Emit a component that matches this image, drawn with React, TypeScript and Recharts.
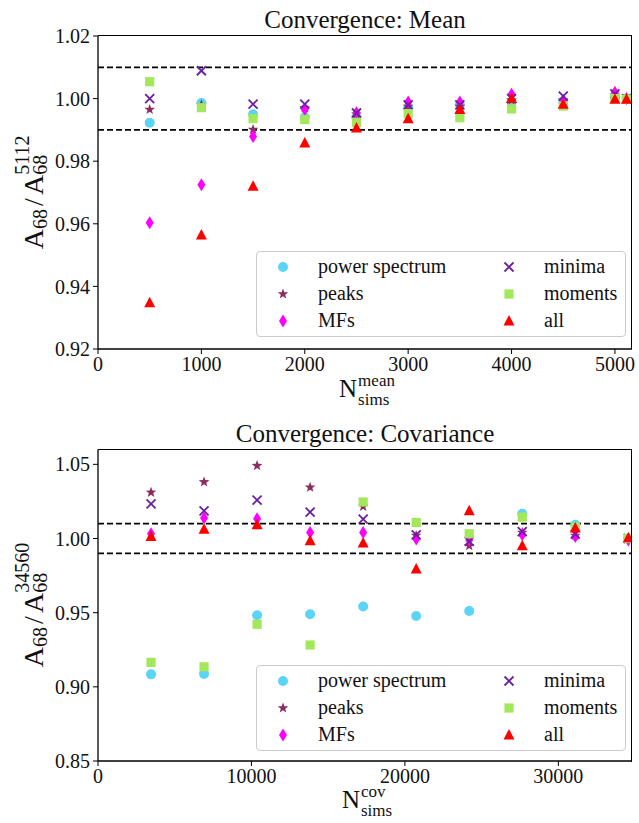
import React from "react";
import {
  ScatterChart,
  Scatter,
  XAxis,
  YAxis,
  ReferenceLine,
  Legend,
} from "recharts";

const SERIF = "'Liberation Serif', 'DejaVu Serif', 'Noto Serif', serif";
const INK = "#111";

// mean convergence (top panel)
const MEAN_N = [500, 1000, 1500, 2000, 2500, 3000, 3500, 4000, 4500, 5000, 5112];
const MEAN_PS = [0.9923, 0.9986, 0.995, 0.994, 0.994, 0.997, 0.998, 0.999, 0.999, 1.0005, 1.0];
const MEAN_PEAKS = [0.9965, 0.998, 0.9901, 0.997, 0.995, 0.9975, 0.9975, 0.9995, 0.9995, 1.001, 1.0];
const MEAN_MFS = [0.9603, 0.9725, 0.9879, 0.9965, 0.9955, 0.9989, 0.9989, 1.0014, 0.9995, 1.002, 1.0];
const MEAN_MINIMA = [1.0, 1.0089, 0.9982, 0.9982, 0.9954, 0.998, 0.998, 1.0, 1.0008, 1.0015, 1.0];
const MEAN_MOMENTS = [1.0054, 0.9971, 0.9936, 0.9933, 0.9924, 0.9952, 0.9939, 0.9967, 0.9976, 1.0, 0.9998];
const MEAN_ALL = [0.9348, 0.9564, 0.972, 0.9858, 0.9906, 0.9936, 0.9965, 1.0, 0.9982, 0.9998, 0.9998];

// covariance convergence (bottom panel)
const COV_N = [3456, 6912, 10368, 13824, 17280, 20736, 24192, 27648, 31104, 34560];
const COV_PS = [0.9084, 0.9086, 0.9482, 0.9489, 0.9541, 0.9478, 0.9511, 1.0167, 1.0093, 1.0];
const COV_PEAKS = [1.0311, 1.0381, 1.0491, 1.0345, 1.0216, 1.002, 0.9951, 1.004, 1.002, 1.0];
const COV_MFS = [1.0032, 1.0138, 1.0133, 1.0041, 1.0041, 0.9996, 0.999, 1.0025, 1.0014, 0.999];
const COV_MINIMA = [1.0234, 1.0187, 1.0259, 1.0178, 1.0131, 1.0025, 0.998, 1.0047, 1.003, 1.0];
const COV_MOMENTS = [0.9165, 0.9135, 0.9422, 0.9282, 1.0246, 1.0108, 1.0032, 1.0144, 1.0077, 1.0];
const COV_ALL = [1.0014, 1.0063, 1.0093, 0.9984, 0.9969, 0.9795, 1.0187, 0.9951, 1.007, 1.0005];

const MEAN_XTICKS = [0, 1000, 2000, 3000, 4000, 5000];
const MEAN_YTICKS = [0.92, 0.94, 0.96, 0.98, 1.0, 1.02];
const COV_XTICKS = [0, 10000, 20000, 30000];
const COV_YTICKS = [0.85, 0.9, 0.95, 1.0, 1.05];
const BOUNDS = [0.99, 1.01];

const SERIES = [
  { name: "power spectrum", kind: "circle", color: "#5bd5f5" },
  { name: "peaks", kind: "star", color: "#8b2c5f" },
  { name: "MFs", kind: "diamond", color: "#ff00ff" },
  { name: "minima", kind: "x", color: "#6a1fa0" },
  { name: "moments", kind: "square", color: "#a3e85a" },
  { name: "all", kind: "triangle", color: "#ff0000" },
];

// panel geometry
const W = 639;
const H = 412;
const Y_AXIS_W = 98;
const RIGHT = 7;
const X_AXIS_H = 30;
const BOTTOM = 33;

const toPoints = (xs: number[], ys: number[]) => xs.map((x, i) => ({ x, y: ys[i] }));

function Marker({ kind, cx, cy, color }: any) {
  if (cx == null || cy == null) return null;
  switch (kind) {
    case "circle":
      return <circle cx={cx} cy={cy} r={5} fill={color} />;
    case "star": {
      const pts = [];
      for (let i = 0; i < 10; i++) {
        const r = i % 2 === 0 ? 5.6 : 2.3;
        const a = -Math.PI / 2 + (i * Math.PI) / 5;
        pts.push(`${cx + r * Math.cos(a)},${cy + r * Math.sin(a)}`);
      }
      return <polygon points={pts.join(" ")} fill={color} />;
    }
    case "diamond":
      return (
        <polygon
          points={`${cx},${cy - 6.5} ${cx + 4},${cy} ${cx},${cy + 6.5} ${cx - 4},${cy}`}
          fill={color}
        />
      );
    case "x":
      return (
        <path
          d={`M${cx - 4.5},${cy - 4.5}L${cx + 4.5},${cy + 4.5}M${cx + 4.5},${cy - 4.5}L${cx - 4.5},${cy + 4.5}`}
          stroke={color}
          strokeWidth={1.8}
        />
      );
    case "square":
      return <rect x={cx - 4.6} y={cy - 4.6} width={9.2} height={9.2} fill={color} />;
    case "triangle":
      return (
        <polygon
          points={`${cx},${cy - 6} ${cx + 5.5},${cy + 4.5} ${cx - 5.5},${cy + 4.5}`}
          fill={color}
        />
      );
    default:
      return null;
  }
}

function LegendBox() {
  return (
    <div
      style={{
        width: 368,
        height: 84,
        border: "1px solid #cccccc",
        borderRadius: 4,
        background: "rgba(255,255,255,0.85)",
        position: "relative",
        fontFamily: SERIF,
        fontSize: 20,
        color: INK,
      }}
    >
      {SERIES.map((s, i) => {
        const col = Math.floor(i / 3);
        const row = i % 3;
        const top = 15 + row * 27;
        return (
          <React.Fragment key={s.name}>
            <svg
              width={16}
              height={16}
              style={{ position: "absolute", left: (col ? 252 : 26) - 8, top: top - 8 }}
            >
              <Marker kind={s.kind} cx={8} cy={8} color={s.color} />
            </svg>
            <div
              style={{
                position: "absolute",
                left: col ? 287 : 61,
                top: top - 13,
                lineHeight: "24px",
                whiteSpace: "nowrap",
              }}
            >
              {s.name}
            </div>
          </React.Fragment>
        );
      })}
    </div>
  );
}

// rotated A_68 / A_68^{sup}, one text element
function YLabel({ x, cy, sup }: { x: number; cy: number; sup: string }) {
  const big = 28;
  const small = 20;
  const wA = 0.722 * big;
  const wSub = 2 * 0.5 * small;
  const wSlash = 0.5 * big;
  const wStack = Math.max(wSub, sup.length * 0.5 * small);
  const total = wA + wSub + wSlash + wA + wStack;
  const a1 = -total / 2;
  const s1 = a1 + wA;
  const sl = s1 + wSub + 0.11 * big;
  const a2 = s1 + wSub + wSlash;
  const s2 = a2 + wA;
  return (
    <g transform={`translate(${x},${cy}) rotate(-90)`}>
      <text fontFamily={SERIF} fill={INK}>
        <tspan x={a1} y={0} fontSize={big}>A</tspan>
        <tspan x={s1} y={4} fontSize={small}>68</tspan>
        <tspan x={sl} y={0} fontSize={big}>/</tspan>
        <tspan x={a2} y={0} fontSize={big}>A</tspan>
        <tspan x={s2} y={4} fontSize={small}>68</tspan>
        <tspan x={s2} y={-14} fontSize={small}>{sup}</tspan>
      </text>
    </g>
  );
}

// N_sims^{sup}, one text element
function XLabel({ cx, y, sup }: { cx: number; y: number; sup: string }) {
  const big = 25;
  const small = 17;
  const wN = 0.722 * big;
  const supW = sup === "mean" ? 2.166 * small : 1.444 * small;
  const subW = 1.834 * small;
  const total = wN + 1 + Math.max(supW, subW);
  const x0 = cx - total / 2;
  return (
    <text fontFamily={SERIF} fill={INK}>
      <tspan x={x0} y={y} fontSize={big}>N</tspan>
      <tspan x={x0 + wN + 1} y={y - 11} fontSize={small}>{sup}</tspan>
      <tspan x={x0 + wN + 1} y={y + 8} fontSize={small}>sims</tspan>
    </text>
  );
}

type PanelProps = {
  top: number;
  marginTop: number;
  xs: number[];
  ys: number[][];
  xDomain: [number, number];
  yDomain: [number, number];
  xTicks: number[];
  yTicks: number[];
};

function Panel({ top, marginTop, xs, ys, xDomain, yDomain, xTicks, yTicks }: PanelProps) {
  const tickStyle = { fontFamily: SERIF, fontSize: 20, fill: INK };
  return (
    <div style={{ position: "absolute", left: 0, top }}>
      <ScatterChart
        width={W}
        height={H}
        margin={{ top: marginTop, right: RIGHT, bottom: BOTTOM, left: 0 }}
      >
        <XAxis
          dataKey="x"
          type="number"
          domain={xDomain}
          ticks={xTicks}
          allowDataOverflow
          height={X_AXIS_H}
          tick={tickStyle}
          tickSize={5}
          tickMargin={3}
          axisLine={{ stroke: "#000", strokeWidth: 1.3 }}
          tickLine={{ stroke: "#000" }}
        />
        <YAxis
          dataKey="y"
          type="number"
          domain={yDomain}
          ticks={yTicks}
          allowDataOverflow
          width={Y_AXIS_W}
          tick={tickStyle}
          tickFormatter={(v: number) => v.toFixed(2)}
          tickSize={5}
          tickMargin={3}
          axisLine={{ stroke: "#000", strokeWidth: 1.3 }}
          tickLine={{ stroke: "#000" }}
        />
        {BOUNDS.map((b) => (
          <ReferenceLine key={b} y={b} stroke="#000" strokeWidth={1.8} strokeDasharray="6 3" />
        ))}
        {SERIES.map((s, i) => (
          <Scatter
            key={s.name}
            name={s.name}
            data={toPoints(xs, ys[i])}
            fill={s.color}
            isAnimationActive={false}
            shape={(props: any) => (
              <Marker kind={s.kind} cx={props.cx} cy={props.cy} color={s.color} />
            )}
          />
        ))}
        <Legend
          layout="vertical"
          align="center"
          verticalAlign="middle"
          content={() => <LegendBox />}
          wrapperStyle={{ left: 256, top: marginTop + 215, width: 370, height: 86 }}
        />
      </ScatterChart>
    </div>
  );
}

// top and right spines of a panel's plot area, as a bordered box on top of the chart
function Frame({ top, marginTop }: { top: number; marginTop: number }) {
  const x0 = Y_AXIS_W;
  const x1 = W - RIGHT;
  const y0 = top + marginTop;
  const y1 = top + H - BOTTOM - X_AXIS_H;
  return (
    <div
      style={{
        position: "absolute",
        left: x0,
        top: Math.round(y0) - 1,
        width: x1 - x0,
        height: Math.round(y1 - y0) + 1,
        borderTop: "1.5px solid #000",
        borderRight: "1.5px solid #000",
        boxSizing: "border-box",
        pointerEvents: "none",
      }}
    />
  );
}

const TOP_PANEL = { top: 0, marginTop: 36 };
const BOTTOM_PANEL = { top: 412, marginTop: 37.5 };

export default function App() {
  return (
    <div style={{ position: "absolute", left: 0, top: 0, width: W, height: 823, background: "#fff" }}>
      <Panel
        {...TOP_PANEL}
        xs={MEAN_N}
        ys={[MEAN_PS, MEAN_PEAKS, MEAN_MFS, MEAN_MINIMA, MEAN_MOMENTS, MEAN_ALL]}
        xDomain={[0, 5165]}
        yDomain={[0.92, 1.02]}
        xTicks={MEAN_XTICKS}
        yTicks={MEAN_YTICKS}
      />
      <Panel
        {...BOTTOM_PANEL}
        xs={COV_N}
        ys={[COV_PS, COV_PEAKS, COV_MFS, COV_MINIMA, COV_MOMENTS, COV_ALL]}
        xDomain={[0, 34800]}
        yDomain={[0.85, 1.06]}
        xTicks={COV_XTICKS}
        yTicks={COV_YTICKS}
      />
      <svg
        width={W}
        height={823}
        style={{ position: "absolute", left: 0, top: 0, pointerEvents: "none" }}
      >
        <text x={365} y={28} textAnchor="middle" fontFamily={SERIF} fontSize={25} fill={INK}>
          Convergence: Mean
        </text>
        <text x={365} y={442} textAnchor="middle" fontFamily={SERIF} fontSize={25} fill={INK}>
          Convergence: Covariance
        </text>
        <YLabel x={43} cy={192} sup="5112" />
        <YLabel x={43} cy={605} sup="34560" />
        <XLabel cx={367} y={397} sup="mean" />
        <XLabel cx={367} y={808} sup="cov" />
      </svg>
      <Frame {...TOP_PANEL} />
      <Frame {...BOTTOM_PANEL} />
    </div>
  );
}
